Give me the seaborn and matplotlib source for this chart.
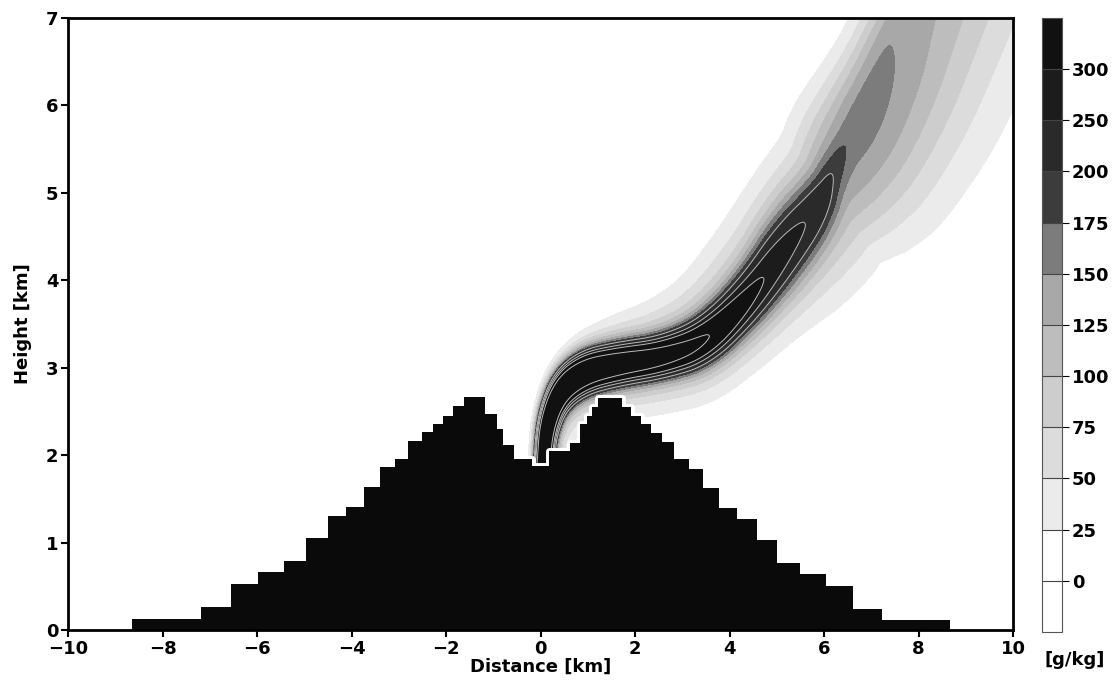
import numpy as np
import matplotlib
matplotlib.use("Agg")
import matplotlib.pyplot as plt
import seaborn as sns

# terrain: step edges [km] and step heights [km]
terrain_edges = [-8.65, -7.18, -6.55, -5.99, -5.44, -4.97, -4.51, -4.12, -3.73, -3.40,
                 -3.08, -2.80, -2.51, -2.27, -2.06, -1.85, -1.63, -1.17, -0.93, -0.80,
                 -0.57, -0.19, 0.17, 0.62, 0.84, 0.98, 1.08, 1.22, 1.72, 1.91,
                 2.12, 2.33, 2.57, 2.83, 3.13, 3.43, 3.78, 4.15, 4.57, 5.01,
                 5.49, 6.04, 6.61, 7.23, 8.67]
terrain_height = [0.12, 0.26, 0.53, 0.66, 0.79, 1.05, 1.30, 1.41, 1.64, 1.86,
                  1.96, 2.16, 2.26, 2.36, 2.45, 2.56, 2.66, 2.47, 2.30, 2.12,
                  1.96, 1.87, 2.05, 2.14, 2.35, 2.45, 2.55, 2.65, 2.55, 2.45,
                  2.35, 2.25, 2.15, 1.95, 1.84, 1.62, 1.40, 1.27, 1.03, 0.77,
                  0.64, 0.50, 0.24, 0.11]

# plume axis, with core / halo strength [g/kg] and widths [km]
plume_x = [0.05, 0.12, 0.40, 0.90, 1.60, 2.60, 3.50, 4.40, 5.20, 5.90, 6.20, 6.60, 7.00, 7.50, 7.80, 8.30]
plume_z = [1.90, 2.35, 2.74, 2.95, 3.04, 3.12, 3.30, 3.78, 4.38, 4.85, 5.25, 5.70, 6.15, 6.80, 7.20, 7.90]
core_val = [550, 550, 500, 450, 400, 350, 290, 200, 150, 110, 45, 0, 0, 0, 0, 0]
core_w = [0.18, 0.19, 0.21, 0.22, 0.22, 0.22, 0.27, 0.33, 0.45, 0.40, 0.26, 0.15, 0.15, 0.15, 0.15, 0.15]
halo_val = [130, 130, 130, 125, 120, 120, 120, 120, 120, 125, 150, 162, 160, 148, 138, 130]
halo_up = [0.14, 0.18, 0.26, 0.36, 0.45, 0.56, 0.72, 0.82, 0.86, 0.88, 0.85, 0.75, 0.68, 0.64, 0.64, 0.64]
halo_dn = [0.40, 0.45, 0.50, 0.52, 0.52, 0.52, 0.58, 0.66, 0.86, 1.00, 1.17, 1.40, 1.60, 1.80, 1.90, 2.00]

levels = [-25, 0, 25, 50, 75, 100, 125, 150, 175, 200, 250, 300, 2000]
grays = ["#ffffff", "#ffffff", "#ebebeb", "#dcdcdc", "#cdcdcd", "#bdbdbd", "#a8a8a8",
         "#7c7c7c", "#3c3c3c", "#2a2a2a", "#1c1c1c", "#111111"]
cbar_ticks = [0, 25, 50, 75, 100, 125, 150, 175, 200, 250, 300]

# smooth the plume axis (corner cutting) so the bands have no kinks
curve = np.array([plume_x, plume_z, core_val, core_w, halo_val, halo_up, halo_dn], float).T
for _ in range(4):
    q = 0.75 * curve[:-1] + 0.25 * curve[1:]
    r = 0.25 * curve[:-1] + 0.75 * curve[1:]
    mid = np.empty((2 * len(q), curve.shape[1]))
    mid[0::2] = q
    mid[1::2] = r
    curve = np.vstack([curve[:1], mid, curve[-1:]])

# build the field on a grid from the plume axis
gx = np.linspace(-10, 10, 801)
gz = np.linspace(0, 7, 351)
X, Z = np.meshgrid(gx, gz)
pts = np.stack([X.ravel(), Z.ravel()], axis=1)
ax_pts = curve[:, :2]
best_d = np.full(len(pts), np.inf)
best_u = np.zeros(len(pts))
best_c = np.zeros(len(pts))
for i in range(len(ax_pts) - 1):
    a, b = ax_pts[i], ax_pts[i + 1]
    ab = b - a
    t = np.clip((pts - a) @ ab / (ab @ ab), 0, 1)
    diff = pts - (a + t[:, None] * ab)
    d = np.hypot(diff[:, 0], diff[:, 1])
    cr = ab[0] * diff[:, 1] - ab[1] * diff[:, 0]
    m = d < best_d
    best_d[m] = d[m]
    best_u[m] = i + t[m]
    best_c[m] = cr[m]
idx = np.arange(len(curve))
cv = np.interp(best_u, idx, curve[:, 2])
cw = np.interp(best_u, idx, curve[:, 3])
hv = np.interp(best_u, idx, curve[:, 4])
hw = np.where(best_c > 0, np.interp(best_u, idx, curve[:, 5]), np.interp(best_u, idx, curve[:, 6]))
field = cv * np.exp(-(best_d / cw) ** 2) + hv * np.exp(-(best_d / hw) ** 2)
field = field.reshape(X.shape)

sns.set_theme(style="ticks")
plt.rcParams["font.family"] = ["DejaVu Sans"]
plt.rcParams["font.weight"] = "bold"
plt.rcParams["text.color"] = "black"
plt.rcParams["axes.labelcolor"] = "black"
plt.rcParams["xtick.color"] = "black"
plt.rcParams["ytick.color"] = "black"

fig = plt.figure(figsize=(11.17, 6.84), dpi=100)
ax = fig.add_axes([0.061, 0.079, 0.846, 0.895])
cax = fig.add_axes([0.933, 0.076, 0.018, 0.898])

cf = ax.contourf(X, Z, field, levels=levels, colors=grays)
ax.contour(X, Z, field, levels=[200, 250, 300, 400], colors="#bbbbbb", linewidths=0.7)

# terrain with white rim
step_x = [terrain_edges[0]] + terrain_edges + [terrain_edges[-1]]
step_y = [0] + terrain_height + [terrain_height[-1], 0]
sns.lineplot(x=step_x, y=step_y, drawstyle="steps-post", color="white", linewidth=5,
             ax=ax, sort=False, estimator=None, zorder=3)
ax.fill_between(terrain_edges, terrain_height + [terrain_height[-1]], 0, step="post",
                color="#0a0a0a", linewidth=0, zorder=4)

ax.set_xlim(-10, 10)
ax.set_ylim(0, 7)
ax.set_xticks(range(-10, 11, 2))
ax.set_yticks(range(0, 8))
ax.tick_params(direction="out", length=5, width=1.5, labelsize=13, pad=2, colors="black")
for s in ax.spines.values():
    s.set_linewidth(2)
    s.set_color("black")
    s.set_visible(True)
    s.set_zorder(6)
ax.set_xlabel("Distance [km]", fontsize=13, fontweight="bold", labelpad=0)
ax.set_ylabel("Height [km]", fontsize=13, fontweight="bold", labelpad=10)
for lab in ax.get_xticklabels() + ax.get_yticklabels():
    lab.set_fontweight("bold")

cb = fig.colorbar(cf, cax=cax, ticks=cbar_ticks, drawedges=True)
cb.outline.set_linewidth(0.8)
cb.outline.set_edgecolor("#555555")
cb.dividers.set_color("#444444")
cb.dividers.set_linewidth(0.8)
cb.ax.tick_params(length=5, width=0.8, labelsize=13, pad=2, colors="black")
for lab in cb.ax.get_yticklabels():
    lab.set_fontweight("bold")
fig.text(0.962, 0.035, "[g/kg]", fontsize=13, fontweight="bold", ha="center", va="center")

fig.savefig("out.png", dpi=100)
